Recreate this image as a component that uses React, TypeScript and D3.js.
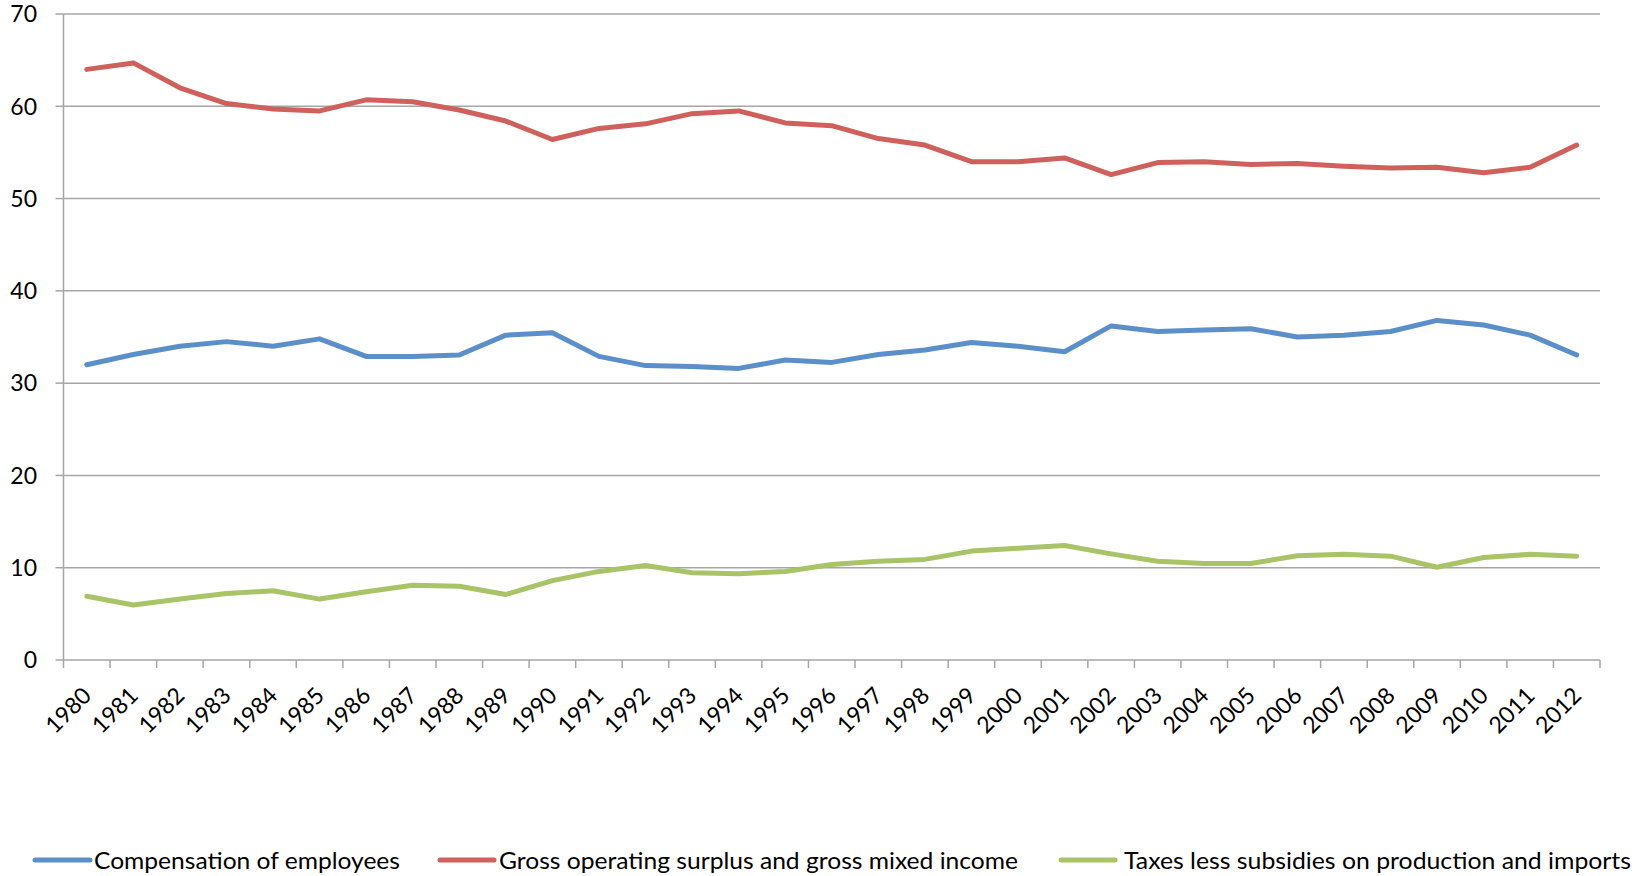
import React from 'react';
import * as d3 from 'd3';

const years = [
  '1980', '1981', '1982', '1983', '1984', '1985', '1986', '1987', '1988', '1989',
  '1990', '1991', '1992', '1993', '1994', '1995', '1996', '1997', '1998', '1999',
  '2000', '2001', '2002', '2003', '2004', '2005', '2006', '2007', '2008', '2009',
  '2010', '2011', '2012',
];

const compensation = [
  32.0, 33.1, 34.0, 34.5, 34.0, 34.8, 32.9, 32.9, 33.05, 35.2,
  35.45, 32.9, 31.9, 31.8, 31.6, 32.5, 32.25, 33.1, 33.6, 34.4,
  34.0, 33.4, 36.2, 35.6, 35.75, 35.9, 35.0, 35.2, 35.6, 36.8,
  36.3, 35.2, 33.05,
];

const grossSurplus = [
  64.0, 64.7, 62.0, 60.3, 59.7, 59.5, 60.7, 60.5, 59.6, 58.4,
  56.4, 57.6, 58.1, 59.2, 59.5, 58.2, 57.9, 56.5, 55.8, 54.0,
  54.0, 54.4, 52.6, 53.9, 54.0, 53.7, 53.8, 53.5, 53.3, 53.4,
  52.8, 53.4, 55.8,
];

const taxes = [
  6.9, 5.96, 6.6, 7.2, 7.5, 6.6, 7.4, 8.1, 8.0, 7.1,
  8.6, 9.6, 10.25, 9.45, 9.35, 9.6, 10.35, 10.7, 10.9, 11.8,
  12.1, 12.4, 11.5, 10.7, 10.45, 10.45, 11.3, 11.45, 11.25, 10.05,
  11.1, 11.45, 11.25,
];

const yTicks = [0, 10, 20, 30, 40, 50, 60, 70];

const series = [
  { name: 'Compensation of employees', values: compensation, color: '#5b8fc9' },
  { name: 'Gross operating surplus and gross mixed income', values: grossSurplus, color: '#d0605b' },
  { name: 'Taxes less subsidies on production and imports', values: taxes, color: '#a8c466' },
];

const W = 1651;
const H = 876;
const left = 63.5;
const right = 1600;
const top = 14;
const bottom = 660;
const font = 'Lato, "Open Sans", sans-serif';

// legend placement: swatch start/end, text start, text width
const legendPos = [
  { x0: 35, x1: 90, tx: 94, w: 306 },
  { x0: 440, x1: 494, tx: 499, w: 519 },
  { x0: 1061, x1: 1115, tx: 1124, w: 507 },
];
const legendY = 860;

export default function App() {
  const x = d3.scaleBand<string>().domain(years).range([left, right]).padding(0);
  const y = d3.scaleLinear().domain([0, 70]).range([bottom, top]);
  const cx = (i: number) => (x(years[i]) || 0) + x.bandwidth() / 2;

  const line = d3.line<number>()
    .x((_, i) => cx(i))
    .y(d => y(d));

  const tickXs = years.map(yr => x(yr) || 0).concat([right]);

  return (
    <svg width={W} height={H} style={{ position: 'absolute', left: 0, top: 0, background: '#fff' }}
      fontFamily={font}>
      {/* gridlines */}
      {yTicks.filter(t => t > 0).map(t => (
        <line key={t} x1={left} x2={right} y1={y(t)} y2={y(t)} stroke="#a6a6a6" strokeWidth={1.5} />
      ))}
      {/* y axis */}
      <line x1={left} x2={left} y1={top} y2={bottom} stroke="#a6a6a6" strokeWidth={1.5} />
      {yTicks.map(t => (
        <g key={t}>
          <line x1={left - 8} x2={left} y1={y(t)} y2={y(t)} stroke="#a6a6a6" strokeWidth={1.5} />
          <text x={37} y={y(t)} dy="0.36em" textAnchor="end" fontSize={23} fill="#000">{t}</text>
        </g>
      ))}
      {/* x axis */}
      <line x1={left} x2={right} y1={bottom} y2={bottom} stroke="#a6a6a6" strokeWidth={1.5} />
      {tickXs.map((tx, i) => (
        <line key={i} x1={tx} x2={tx} y1={bottom} y2={bottom + 8} stroke="#a6a6a6" strokeWidth={1.5} />
      ))}
      {years.map((yr, i) => (
        <text key={yr} textAnchor="end" fontSize={23} fill="#000"
          transform={`translate(${cx(i) + 6},${697}) rotate(-45)`}>{yr}</text>
      ))}
      {/* lines */}
      {series.map(s => (
        <path key={s.name} d={line(s.values) || ''} fill="none" stroke={s.color} strokeWidth={5}
          strokeLinejoin="round" strokeLinecap="round" />
      ))}
      {/* legend */}
      {series.map((s, i) => (
        <g key={s.name}>
          <line x1={legendPos[i].x0} x2={legendPos[i].x1} y1={legendY} y2={legendY} stroke={s.color}
            strokeWidth={5} strokeLinecap="round" />
          <text x={legendPos[i].tx} y={legendY} dy="0.38em" fontSize={24} fill="#000"
            textLength={legendPos[i].w} lengthAdjust="spacingAndGlyphs">{s.name}</text>
        </g>
      ))}
    </svg>
  );
}
